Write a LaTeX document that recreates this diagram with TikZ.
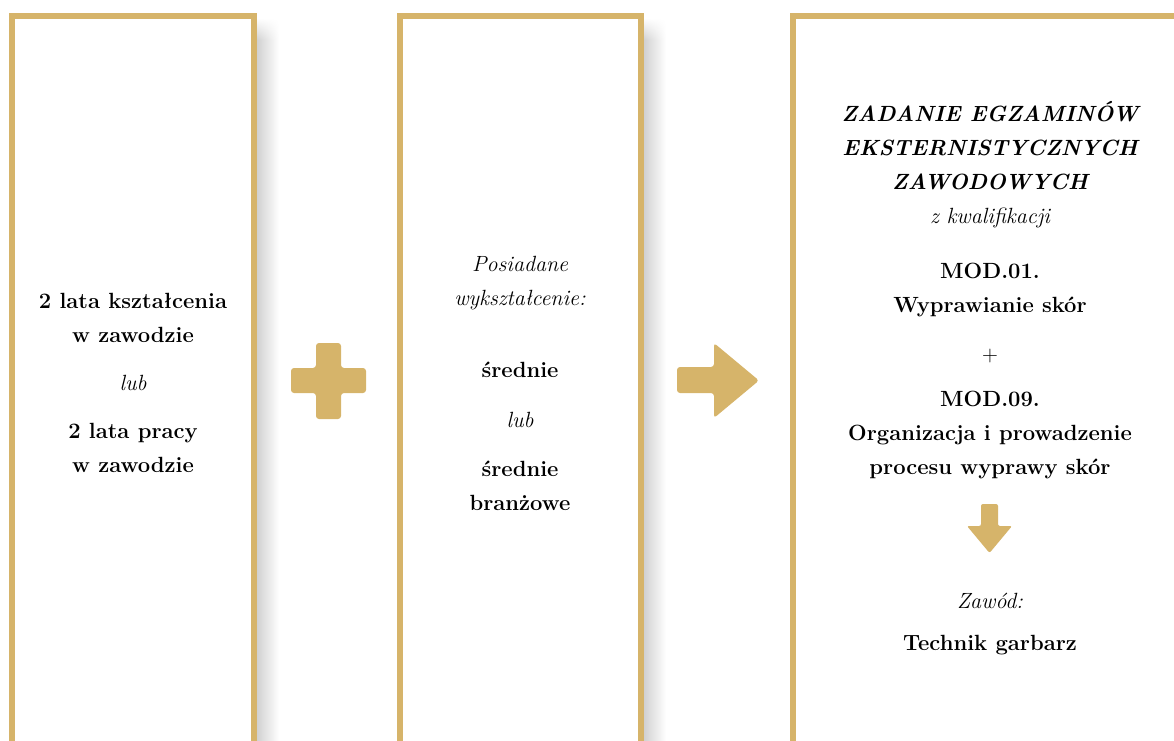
\documentclass[tikz,border=0pt]{standalone}
\usepackage{tikz}
\usetikzlibrary{positioning,shadings}
\definecolor{gold}{RGB}{214,180,106}
\newcommand{\tsize}{\fontsize{22}{34}\selectfont}

\begin{document}
\begin{tikzpicture}[x=1pt,y=-1pt,
        panel/.style={draw=gold,line width=6pt,fill=white},
        sign/.style={fill=gold,rounded corners=3pt},
        txt/.style={anchor=base,align=center,font=\tsize},
        txtb/.style={txt,font=\tsize\bfseries},
        txti/.style={txt,font=\tsize\itshape}]
    \useasboundingbox (0,0) rectangle (1174,740);
    \clip (0,0) rectangle (1174,740);

    \foreach \x in {257,644}{
        \shade[upper left=white,lower left=black!18,upper right=white,lower right=white] (\x,18) rectangle (\x+22,40);
        \shade[left color=black!18,right color=white] (\x,40) rectangle (\x+22,740);
    }

    \draw[panel] (12,16) rectangle (254,760);
    \draw[panel] (400,16) rectangle (641,760);
    \draw[panel] (793,16) rectangle (1190,760);

    \fill[sign] (316,343) -- (341,343) -- (341,368) -- (366,368) -- (366,393) -- (341,393)
        -- (341,419) -- (316,419) -- (316,393) -- (291,393) -- (291,368) -- (316,368) -- cycle;
    \fill[sign] (677,367) -- (714,367) -- (714,343) -- (759,380.5) -- (714,418) -- (714,393)
        -- (677,393) -- cycle;
    \fill[sign,rounded corners=2pt] (981,504) -- (998,504) -- (998,526) -- (1012,526) -- (989.5,553)
        -- (967,526) -- (981,526) -- cycle;

    % anchor=base sits on the last line
    \node[txtb] (years) at (133,342) {2 lata kształcenia\\w zawodzie};
    \node[txti] (or1) at (133,390) {lub};
    \node[txtb] (work) at (133,472) {2 lata pracy\\w zawodzie};

    \node[txti] (edu) at (520,305) {Posiadane\\wykształcenie:};
    \node[txtb] (mid) at (520,377) {średnie};
    \node[txti] (or2) at (520,427) {lub};
    \node[txtb] (branch) at (520,510) {średnie\\branżowe};

    \node[txti] (exam) at (990,223) {\textbf{ZADANIE EGZAMINÓW}\\\textbf{EKSTERNISTYCZNYCH}\\\textbf{ZAWODOWYCH}\\z kwalifikacji};
    \node[txtb] (mod1) at (990,312) {MOD.01.\\Wyprawianie skór};
    \node[txt] (plus) at (990,361) {+};
    \node[txtb] (mod9) at (990,474) {MOD.09.\\Organizacja i prowadzenie\\procesu wyprawy skór};
    \node[txti] (job) at (990,608) {Zawód:};
    \node[txtb] (name) at (990,650) {Technik garbarz};
\end{tikzpicture}
\end{document}
